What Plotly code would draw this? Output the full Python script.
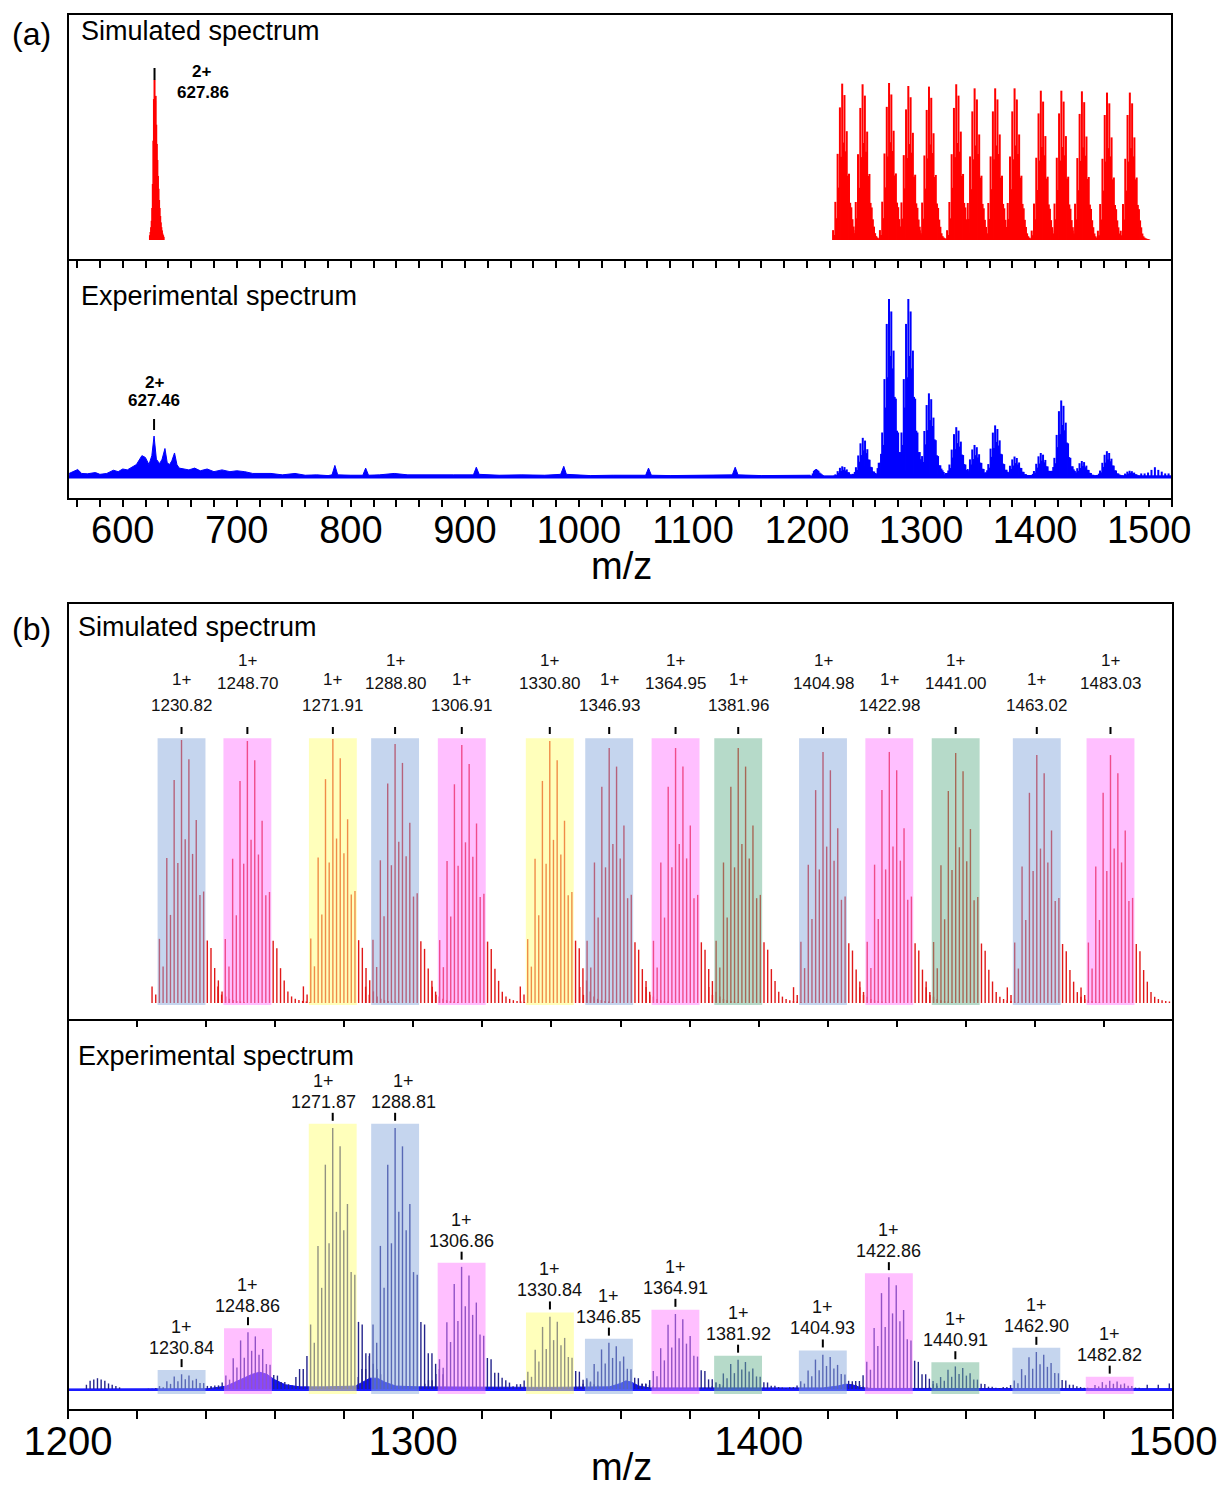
import plotly.graph_objects as go

W, H = 1225, 1491

# ---------------- data ----------------
# Panel (a) simulated 2+ ion
sim2_mz = 627.86
sim2_height = 1.02
sim2_offsets = [-4, -3.5, -3, -2.5, -2, -1.5, -1, -0.5, 0, 0.5, 1, 1.5, 2, 2.5, 3, 3.5, 4,
                4.5, 5, 5.5, 6, 6.5, 7, 7.5, 8]
sim2_profile = [0.03, 0.05, 0.08, 0.12, 0.2, 0.35, 0.62, 0.88, 1.0, 0.87, 0.9, 0.72, 0.6, 0.5,
                0.4, 0.32, 0.25, 0.2, 0.15, 0.11, 0.08, 0.06, 0.04, 0.03, 0.02]

# Simulated 1+ clusters
sim_mz = [1230.82, 1248.70, 1271.91, 1288.80, 1306.91, 1330.80, 1346.93, 1364.95,
          1381.96, 1404.98, 1422.98, 1441.00, 1463.02, 1483.03]
sim_height = [0.996, 0.992, 1.0, 0.981, 0.977, 0.992, 0.966, 0.966, 0.966, 0.951,
              0.951, 0.947, 0.939, 0.939]
sim_iso_offsets = [-8, -7, -6, -5, -4, -3, -2, -1, 0, 1, 2, 3, 4, 5, 6, 7, 8, 9, 10, 11,
                   12, 13, 14, 15, 16, 17]
sim_iso_profile = [0.063, 0.032, 0.244, 0.139, 0.551, 0.335, 0.848, 0.532, 1.0, 0.623,
                   0.927, 0.567, 0.696, 0.411, 0.424, 0.238, 0.209, 0.133, 0.086, 0.044,
                   0.025, 0.016, 0.011, 0.008, 0.006, 0.004]

# Experimental 1+ clusters
exp_mz = [1230.84, 1248.86, 1271.87, 1288.81, 1306.86, 1330.84, 1346.85, 1364.91,
          1381.92, 1404.93, 1422.86, 1440.91, 1462.90, 1482.82]
exp_height = [0.06, 0.22, 1.0, 1.0, 0.47, 0.28, 0.18, 0.29, 0.115, 0.135, 0.43, 0.09,
              0.145, 0.035]
exp_iso_offsets = [-10, -9, -8, -7, -6, -5, -4, -3, -2, -1, 0, 1, 2, 3, 4, 5, 6, 7, 8, 9,
                   10, 11, 12, 13]
exp_iso_profile = [0.05, 0.08, 0.08, 0.13, 0.25, 0.18, 0.55, 0.39, 0.86, 0.56, 1.0, 0.68,
                   0.93, 0.61, 0.71, 0.45, 0.44, 0.26, 0.25, 0.14, 0.14, 0.10, 0.08, 0.06]

# Experimental 2+ ion label
exp2_mz = 627.46

# Experimental low-mass profile (panel a)
low_mz = [553, 557, 560.5, 564, 569, 576, 580, 586, 591.8, 596, 600, 604, 608, 612, 616.8,
          619.8, 623, 625.5, 627.46, 629.5, 632.3, 634.5, 637, 639, 641, 643, 645.4, 647.5,
          649.5, 653, 658, 663, 668, 674, 680, 687, 694, 700, 707, 714, 722, 730, 740, 751,
          760, 770, 780, 783.5, 786, 788.5, 800, 810.5, 813, 815.5, 825, 838, 850, 870, 890,
          907.5, 910, 912.5, 930, 950, 970, 984, 986.7, 989, 1010, 1030, 1045, 1058.5, 1061,
          1063.5, 1080, 1100, 1120, 1134.5, 1137, 1139.5, 1160, 1180, 1195, 1203]
low_int = [0.02, 0.03, 0.042, 0.02, 0.018, 0.025, 0.015, 0.02, 0.038, 0.03, 0.045, 0.04,
           0.055, 0.07, 0.12, 0.11, 0.07, 0.12, 0.23, 0.1, 0.075, 0.1, 0.16, 0.08, 0.07,
           0.09, 0.135, 0.07, 0.05, 0.045, 0.04, 0.05, 0.035, 0.045, 0.03, 0.04, 0.03, 0.035,
           0.03, 0.02, 0.018, 0.02, 0.012, 0.02, 0.01, 0.012, 0.008, 0.012, 0.065, 0.012,
           0.01, 0.01, 0.05, 0.01, 0.012, 0.02, 0.012, 0.01, 0.012, 0.012, 0.055, 0.015,
           0.01, 0.012, 0.01, 0.015, 0.06, 0.015, 0.008, 0.01, 0.008, 0.01, 0.05, 0.01,
           0.008, 0.01, 0.008, 0.012, 0.055, 0.012, 0.008, 0.01, 0.01, 0.01]

# Extra experimental sticks (outside labelled clusters)
extra_mz = [1205, 1206, 1207, 1208, 1209, 1210, 1211, 1212, 1213, 1214,
            1493, 1496, 1499, 1502, 1505, 1508, 1511, 1514, 1517]
extra_int = [0.02, 0.035, 0.04, 0.045, 0.04, 0.035, 0.025, 0.02, 0.015, 0.01,
             0.02, 0.02, 0.025, 0.04, 0.055, 0.04, 0.03, 0.02, 0.02]

# Experimental continuum (blue fill under the sticks)
cont_mz = [1200, 1238, 1243, 1247, 1250, 1252, 1254, 1256, 1259, 1263, 1270, 1278, 1280,
           1282, 1284, 1286, 1289, 1295, 1330, 1347, 1350, 1351.5, 1353, 1355, 1358, 1405,
           1409, 1411, 1413, 1415, 1418, 1520]
cont_int = [0.004, 0.005, 0.015, 0.04, 0.06, 0.068, 0.06, 0.04, 0.02, 0.012, 0.012, 0.015,
            0.03, 0.045, 0.045, 0.03, 0.015, 0.012, 0.01, 0.012, 0.025, 0.035, 0.03, 0.015,
            0.008, 0.008, 0.015, 0.022, 0.02, 0.01, 0.006, 0.005]

box_kind = ["blue", "magenta", "yellow", "blue", "magenta", "yellow", "blue", "magenta",
            "green", "blue", "magenta", "green", "blue", "magenta"]

a_tick_vals = [560 + 20 * k for k in range(49)]
a_tick_text = [str(v) if v % 100 == 0 else "" for v in a_tick_vals]
b_tick_vals = [1200, 1218.75, 1237.5, 1256.25, 1275, 1293.75, 1312.5, 1331.25, 1350,
               1368.75, 1387.5, 1406.25, 1425, 1443.75, 1462.5, 1481.25, 1500]
b_tick_text = ["1200", "", "", "", "", "1300", "", "", "", "", "1400", "", "", "", "", "",
               "1500"]

# ---------------- styling ----------------
FONT = "Liberation Sans, Arial, sans-serif"
BOX_FILL = {"blue": "rgba(140,172,222,0.5)", "magenta": "rgba(255,128,255,0.5)",
            "yellow": "rgba(255,255,120,0.5)", "green": "rgba(110,182,148,0.5)"}
EXP_LABEL_XSHIFT = {2: -9, 3: 8}


def xp(px):
    return px / W


def yp(py):
    return 1 - py / H


def sticks(centers, heights, offsets, profile):
    xs, ys = [], []
    for c, h in zip(centers, heights):
        for o, v in zip(offsets, profile):
            xs += [c + o, c + o, None]
            ys += [0, h * v, None]
    return xs, ys


def single_sticks(mzs, ints):
    xs, ys = [], []
    for m, v in zip(mzs, ints):
        xs += [m, m, None]
        ys += [0, v, None]
    return xs, ys


# pixel geometry of the four strips
A_L, A_R, B_L, B_R = 68, 1172, 68, 1173
A_TOP, A_MID, A_BOT = 14, 259, 499
B_TOP, B_MID, B_BOT = 603, 1019, 1410
A1_BASE, A1_UNIT = 240, 157
A2_BASE, A2_UNIT = 477, 178
B1_BASE, B1_UNIT = 1003, 264
B2_BASE, B2_UNIT = 1390, 262

fig = go.Figure()

# ---- panel (a) simulated ----
sx2, sy2 = sticks([sim2_mz], [sim2_height], sim2_offsets, sim2_profile)
sxa, sya = sticks(sim_mz, sim_height, sim_iso_offsets, sim_iso_profile)
fig.add_trace(go.Scatter(x=sx2 + sxa, y=sy2 + sya, mode="lines",
                         line=dict(color="#ff0000", width=2), xaxis="x", yaxis="y",
                         hoverinfo="skip"))

# ---- panel (a) experimental ----
fig.add_trace(go.Scatter(x=low_mz, y=low_int, mode="lines", fill="tozeroy",
                         fillcolor="#0000ff", line=dict(color="#0000ff", width=1),
                         xaxis="x2", yaxis="y2", hoverinfo="skip"))
fig.add_trace(go.Scatter(x=cont_mz, y=cont_int, mode="lines", fill="tozeroy",
                         fillcolor="#0000ff", line=dict(color="#0000ff", width=1),
                         xaxis="x2", yaxis="y2", hoverinfo="skip"))
exa, eya = sticks(exp_mz, exp_height, exp_iso_offsets, exp_iso_profile)
xxa, xya = single_sticks(extra_mz, extra_int)
fig.add_trace(go.Scatter(x=exa + xxa, y=eya + xya, mode="lines",
                         line=dict(color="#0000ff", width=2), xaxis="x2", yaxis="y2",
                         hoverinfo="skip"))

# ---- panel (b) simulated ----
fig.add_trace(go.Scatter(x=sxa, y=sya, mode="lines",
                         line=dict(color="#e01818", width=1.4), xaxis="x3", yaxis="y3",
                         hoverinfo="skip"))

# ---- panel (b) experimental ----
fig.add_trace(go.Scatter(x=cont_mz, y=cont_int, mode="lines", fill="tozeroy",
                         fillcolor="#1010ff", line=dict(color="#1010ff", width=1),
                         xaxis="x4", yaxis="y4", hoverinfo="skip"))
fig.add_trace(go.Scatter(x=exa + xxa, y=eya + xya, mode="lines",
                         line=dict(color="#24248c", width=1.4), xaxis="x4", yaxis="y4",
                         hoverinfo="skip"))

shapes = []
annotations = []

# baselines
shapes.append(dict(type="line", xref="x2 domain", yref="y2", x0=0, x1=1, y0=0, y1=0,
                   line=dict(color="#0000ff", width=3), layer="above"))
shapes.append(dict(type="line", xref="x4 domain", yref="y4", x0=0, x1=1, y0=0, y1=0,
                   line=dict(color="#1a1aff", width=2), layer="above"))

# coloured boxes, marker ticks and labels - panel (b)
sim_box_top = 1.003
for i, (m, kind) in enumerate(zip(sim_mz, box_kind)):
    shapes.append(dict(type="rect", xref="x3", yref="y3", x0=m - 6.5, x1=m + 6.5,
                       y0=-0.008, y1=sim_box_top, fillcolor=BOX_FILL[kind],
                       line=dict(width=0), layer="above"))
    shapes.append(dict(type="line", xref="x3", yref="paper", x0=m, x1=m, y0=yp(734),
                       y1=yp(727), line=dict(color="black", width=2), layer="above"))
    if i % 2 == 0:
        y_charge, y_num = 679, 705
    else:
        y_charge, y_num = 660, 683
    annotations.append(dict(x=m, y=yp(y_charge), xref="x3", yref="paper", text="1+",
                            showarrow=False, font=dict(family=FONT, size=17, color="#111"),
                            xanchor="center", yanchor="middle"))
    annotations.append(dict(x=m, y=yp(y_num), xref="x3", yref="paper", text=f"{m:.2f}",
                            showarrow=False, font=dict(family=FONT, size=17, color="#111"),
                            xanchor="center", yanchor="middle"))

for i, (m, h, kind) in enumerate(zip(exp_mz, exp_height, box_kind)):
    top = h + 0.016
    shapes.append(dict(type="rect", xref="x4", yref="y4", x0=m - 6.5, x1=m + 6.5,
                       y0=-0.015, y1=top, fillcolor=BOX_FILL[kind],
                       line=dict(width=0), layer="above"))
    shapes.append(dict(type="line", xref="x4", yref="y4", ysizemode="pixel", yanchor=top,
                       x0=m, x1=m, y0=3, y1=11, line=dict(color="black", width=2),
                       layer="above"))
    xs = EXP_LABEL_XSHIFT.get(i, 0)
    annotations.append(dict(x=m, y=top, xref="x4", yref="y4", yshift=43, xshift=xs,
                            text="1+", showarrow=False,
                            font=dict(family=FONT, size=18, color="#111"),
                            xanchor="center", yanchor="middle"))
    annotations.append(dict(x=m, y=top, xref="x4", yref="y4", yshift=22, xshift=xs,
                            text=f"{m:.2f}", showarrow=False,
                            font=dict(family=FONT, size=18, color="#111"),
                            xanchor="center", yanchor="middle"))

# panel (a) labels
shapes.append(dict(type="line", xref="x", yref="paper", x0=sim2_mz, x1=sim2_mz,
                   y0=yp(80), y1=yp(68), line=dict(color="black", width=2), layer="above"))
annotations.append(dict(x=sim2_mz, y=yp(71), xref="x", yref="paper", xshift=47,
                        text="<b>2+</b>", showarrow=False, xanchor="center", yanchor="middle",
                        font=dict(family=FONT, size=17, color="black")))
annotations.append(dict(x=sim2_mz, y=yp(92), xref="x", yref="paper", xshift=48,
                        text=f"<b>{sim2_mz:.2f}</b>", showarrow=False, xanchor="center",
                        yanchor="middle", font=dict(family=FONT, size=17, color="black")))
shapes.append(dict(type="line", xref="x2", yref="paper", x0=exp2_mz, x1=exp2_mz,
                   y0=yp(430), y1=yp(419), line=dict(color="black", width=2), layer="above"))
annotations.append(dict(x=exp2_mz, y=yp(383), xref="x2", yref="paper", text="<b>2+</b>",
                        showarrow=False, xanchor="center", yanchor="middle",
                        font=dict(family=FONT, size=17, color="black")))
annotations.append(dict(x=exp2_mz, y=yp(401), xref="x2", yref="paper",
                        text=f"<b>{exp2_mz:.2f}</b>", showarrow=False, xanchor="center",
                        yanchor="middle", font=dict(family=FONT, size=17, color="black")))

# frames
shapes.append(dict(type="rect", xref="paper", yref="paper", x0=xp(A_L), x1=xp(A_R),
                   y0=yp(A_BOT), y1=yp(A_TOP), line=dict(color="black", width=2),
                   fillcolor="rgba(0,0,0,0)", layer="above"))
shapes.append(dict(type="rect", xref="paper", yref="paper", x0=xp(B_L), x1=xp(B_R),
                   y0=yp(B_BOT), y1=yp(B_TOP), line=dict(color="black", width=2),
                   fillcolor="rgba(0,0,0,0)", layer="above"))

# titles
for txt, x, y, size, anchor, yanc in [
        ("(a)", 31, 34, 32, "center", "middle"),
        ("(b)", 31, 629, 32, "center", "middle"),
        ("Simulated spectrum", 79, 31, 27, "left", "middle"),
        ("Experimental spectrum", 79, 296, 27, "left", "middle"),
        ("Simulated spectrum", 76, 627, 27, "left", "middle"),
        ("Experimental spectrum", 76, 1056, 27, "left", "middle"),
        ("m/z", 621, 566, 38, "center", "middle"),
        ("m/z", 621, 1490, 38, "center", "bottom")]:
    annotations.append(dict(x=xp(x), y=yp(y), xref="paper", yref="paper", text=txt,
                            showarrow=False, xanchor=anchor, yanchor=yanc,
                            font=dict(family=FONT, size=size, color="black")))


def yrange(base, unit, top_px, bot_px):
    return [-(bot_px - base) / unit, (base - top_px) / unit]


common_x = dict(showgrid=False, zeroline=False, ticks="outside", tickcolor="black",
                tickwidth=1.5, automargin=False, fixedrange=True)

fig.update_layout(
    width=W, height=H, margin=dict(l=0, r=0, t=0, b=0), template="none",
    paper_bgcolor="white", plot_bgcolor="white", showlegend=False,
    xaxis=dict(domain=[xp(A_L), xp(A_R)], range=[552, 1520], anchor="y",
               tickvals=a_tick_vals, showticklabels=False, ticklen=7, showline=True,
               linecolor="black", linewidth=2, **common_x),
    yaxis=dict(domain=[yp(A_MID), yp(A_TOP)], range=yrange(A1_BASE, A1_UNIT, A_TOP, A_MID),
               visible=False, anchor="x", fixedrange=True),
    xaxis2=dict(domain=[xp(A_L), xp(A_R)], range=[552, 1520], anchor="y2",
                tickvals=a_tick_vals, ticktext=a_tick_text, ticklen=7, showline=False,
                ticklabelstandoff=-10,
                tickfont=dict(family=FONT, size=38, color="black"), **common_x),
    yaxis2=dict(domain=[yp(A_BOT), yp(A_MID)], range=yrange(A2_BASE, A2_UNIT, A_MID, A_BOT),
                visible=False, anchor="x2", fixedrange=True),
    xaxis3=dict(domain=[xp(B_L), xp(B_R)], range=[1200, 1500], anchor="y3",
                tickvals=b_tick_vals, showticklabels=False, ticklen=6, showline=True,
                linecolor="black", linewidth=2, **common_x),
    yaxis3=dict(domain=[yp(B_MID), yp(B_TOP)], range=yrange(B1_BASE, B1_UNIT, B_TOP, B_MID),
                visible=False, anchor="x3", fixedrange=True),
    xaxis4=dict(domain=[xp(B_L), xp(B_R)], range=[1200, 1500], anchor="y4",
                tickvals=b_tick_vals, ticktext=b_tick_text, ticklen=8, showline=False,
                ticklabelstandoff=-12,
                tickfont=dict(family=FONT, size=40, color="black"), **common_x),
    yaxis4=dict(domain=[yp(B_BOT), yp(B_MID)], range=yrange(B2_BASE, B2_UNIT, B_MID, B_BOT),
                visible=False, anchor="x4", fixedrange=True),
    shapes=shapes, annotations=annotations,
)

fig.write_html("out.html")
